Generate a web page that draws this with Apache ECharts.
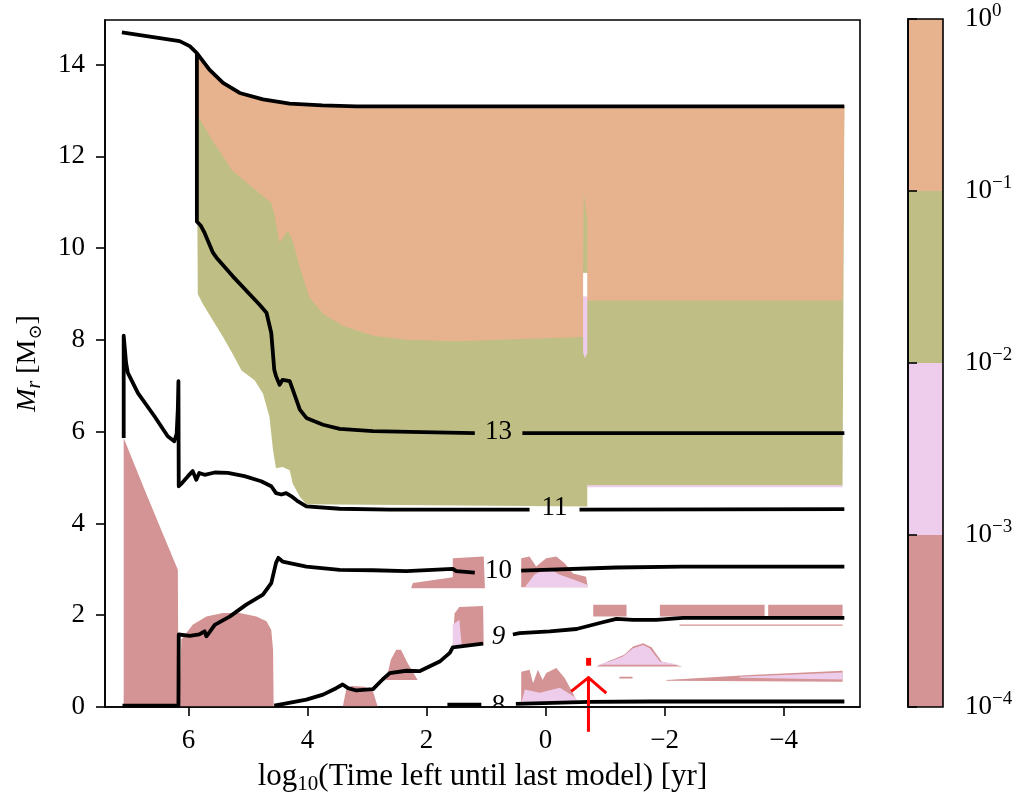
<!DOCTYPE html>
<html lang="en">

<head>
    <meta charset="UTF-8">
    <title>kippenhahn</title>
    <script src="https://cdn.jsdelivr.net/npm/echarts@6.0.0/dist/echarts.min.js"></script>
</head>

<body style="margin:0;background:#fff">
    <div id="chart" style="width:1027px;height:796px;"></div>
    <script>
        // ticks
        var xTicks = [6, 4, 2, 0, -2, -4];
        var yTicks = [0, 2, 4, 6, 8, 10, 12, 14];
        var cbBands = [[1e-4, 1e-3], [1e-3, 1e-2], [1e-2, 1e-1], [1e-1, 1]];
        var cbColours = ['#d49394', '#eecdec', '#bfbf85', '#e7b38e'];

        // black curves, null = gap for the inline label
        var totalMass = [[7.12, 14.70], [6.15, 14.51], [5.98, 14.40], [5.86, 14.25], [5.65, 13.89], [5.42, 13.60], [5.14, 13.38], [4.75, 13.24], [4.30, 13.15], [3.75, 13.11], [3.18, 13.09], [-5.02, 13.09]];
        var contour13 = [[5.86, 14.25], [5.86, 10.58], [5.79, 10.48], [5.73, 10.33], [5.59, 9.90], [5.53, 9.79], [5.26, 9.39], [4.81, 8.77], [4.69, 8.59], [4.61, 8.15], [4.56, 7.35], [4.53, 7.21], [4.47, 7.02], [4.42, 7.13], [4.30, 7.10], [4.25, 6.92], [4.13, 6.48], [4.02, 6.30], [3.74, 6.15], [3.46, 6.06], [2.90, 6.01], [2.07, 5.99], [1.19, 5.97], null, [0.39, 5.97], [-5.02, 5.97]];
        var contour11 = [[7.09, 5.86], [7.09, 8.09], [7.05, 7.50], [7.02, 7.28], [6.85, 6.84], [6.57, 6.33], [6.35, 5.90], [6.24, 5.79], [6.20, 5.95], [6.18, 6.5], [6.17, 7.10], [6.165, 4.81], [6.11, 4.88], [6.01, 5.03], [5.93, 5.14], [5.87, 4.95], [5.82, 5.10], [5.73, 5.06], [5.56, 5.11], [5.34, 5.10], [5.06, 5.03], [4.78, 4.92], [4.61, 4.81], [4.53, 4.66], [4.44, 4.63], [4.36, 4.66], [4.27, 4.59], [4.16, 4.48], [4.02, 4.37], [3.46, 4.32], [2.62, 4.30], [0.27, 4.30], null, [-0.57, 4.30], [-5.02, 4.31]];
        var contour10 = [[7.11, 0.03], [6.17, 0.03], [6.165, 1.58], [5.98, 1.55], [5.82, 1.58], [5.73, 1.65], [5.70, 1.54], [5.62, 1.68], [5.56, 1.79], [5.31, 1.97], [5.03, 2.23], [4.75, 2.45], [4.61, 2.70], [4.53, 3.14], [4.49, 3.25], [4.42, 3.17], [4.02, 3.06], [3.46, 2.99], [2.90, 2.98], [2.34, 2.96], [1.56, 3.01], [1.50, 2.96], [1.19, 2.93], null, [0.41, 2.97], [-1.19, 3.04], [-2.30, 3.06], [-5.02, 3.06]];
        var contour9 = [[4.56, 0.03], [4.02, 0.16], [3.74, 0.27], [3.52, 0.41], [3.41, 0.49], [3.32, 0.41], [3.18, 0.36], [2.90, 0.39], [2.74, 0.60], [2.62, 0.74], [2.34, 0.79], [2.12, 0.78], [1.78, 0.99], [1.61, 1.18], [1.56, 1.30], [1.05, 1.38], null, [0.55, 1.58], [0.44, 1.61], [-0.07, 1.65], [-0.52, 1.70], [-0.91, 1.83], [-1.19, 1.92], [-1.47, 1.90], [-1.86, 1.90], [-2.31, 1.94], [-5.02, 1.94]];
        var contour8 = [[1.65, 0.05], [1.08, 0.05], null, [0.50, 0.07], [-0.73, 0.11], [-1.75, 0.12], [-5.02, 0.12]];
        var contourLabels = [[0.79, 6.00, '13'], [-0.15, 4.33, '11'], [0.79, 2.97, '10'], [0.79, 1.53, '9'], [0.79, 0.03, '8']];

        // filled regions (log t, Mr)
        var peachLower = [[-4.99, 8.86], [-0.70, 8.86], [-0.70, 8.06], [-0.60, 8.06], [1.50, 7.97], [2.34, 8.00], [2.90, 8.09], [3.41, 8.31], [3.74, 8.57], [3.97, 8.93], [4.13, 9.58], [4.25, 10.16], [4.33, 10.38], [4.47, 10.12], [4.56, 10.74], [4.61, 10.99], [4.86, 11.25], [5.26, 11.68], [5.59, 12.33], [5.861, 12.92]];
        var oliveLower = [[-4.99, 4.82], [-0.70, 4.82], [-0.70, 4.37], [4.02, 4.42], [4.13, 4.58], [4.25, 4.87], [4.30, 5.16], [4.42, 5.23], [4.53, 5.20], [4.58, 5.59], [4.64, 6.32], [4.75, 6.83], [4.89, 7.12], [5.11, 7.33], [5.26, 7.70], [5.42, 8.06], [5.59, 8.42], [5.76, 8.78], [5.845, 9.00], [5.861, 12.92]];
        var oliveSliver = [[-0.64, 11.2], [-0.70, 10.6], [-0.70, 9.46], [-0.63, 9.46]];
        var whiteStrip = [[-0.63, 9.46], [-0.70, 9.46], [-0.70, 8.94], [-0.63, 8.94]];
        var lavStrip = [[-0.63, 8.94], [-0.70, 8.94], [-0.70, 7.72], [-0.66, 7.60], [-0.63, 7.72]];
        var lavOliveEdge = [[-0.70, 4.79], [-4.99, 4.79], [-4.99, 4.83], [-0.70, 4.83]];

        var roseA = [[7.09, 5.86], [6.74, 4.74], [6.46, 3.86], [6.18, 2.99], [6.17, 0], [7.09, 0]];
        var roseB = [[6.16, 0], [6.12, 1.47], [5.93, 1.79], [5.70, 1.97], [5.42, 2.05], [5.14, 2.05], [4.86, 1.97], [4.69, 1.87], [4.61, 1.68], [4.58, 1.25], [4.57, 0]];
        var roseC = [[3.41, 0], [3.35, 0.38], [3.26, 0.46], [3.04, 0.44], [2.90, 0.34], [2.82, 0]];
        var roseD = [[2.68, 0.59], [2.60, 1.03], [2.51, 1.25], [2.43, 1.25], [2.32, 0.96], [2.15, 0.59]];
        var roseE = [[1.56, 1.35], [1.53, 2.04], [1.45, 2.18], [1.05, 2.20], [1.04, 1.35]];
        var roseF1 = [[2.26, 2.59], [2.23, 2.70], [1.56, 2.83], [1.56, 3.24], [1.04, 3.28], [1.02, 2.59]];
        var roseF2 = [[0.41, 2.61], [0.41, 3.24], [0.27, 3.28], [0.16, 3.06], [-0.01, 3.24], [-0.18, 3.28], [-0.32, 3.13], [-0.46, 2.91], [-0.68, 2.84], [-0.71, 2.61]];
        var roseG1 = [[-0.80, 1.97], [-0.80, 2.23], [-1.36, 2.23], [-1.36, 1.97]];
        var roseG2 = [[-1.92, 1.97], [-1.92, 2.23], [-3.68, 2.23], [-3.68, 1.97]];
        var roseG3 = [[-3.74, 1.97], [-3.74, 2.23], [-4.99, 2.23], [-4.99, 1.97]];
        var roseI = [[0.41, 0.07], [0.41, 0.77], [0.27, 0.81], [0.21, 0.52], [0.13, 0.81], [0.05, 0.59], [-0.01, 0.74], [-0.18, 0.85], [-0.32, 0.63], [-0.46, 0.30], [-0.54, 0.09]];
        var roseJ = [[-2.03, 0.59], [-3.43, 0.70], [-4.99, 0.79], [-4.99, 0.55], [-2.03, 0.57]];
        var roseK = [[-2.25, 1.77], [-4.99, 1.77], [-4.99, 1.80], [-2.25, 1.80]];
        var roseDome = [[-0.85, 0.88], [-1.10, 1.02], [-1.32, 1.14], [-1.47, 1.32], [-1.64, 1.39], [-1.78, 1.30], [-1.95, 0.99], [-2.30, 0.88]];
        var roseDash = [[-1.24, 0.62], [-1.46, 0.62], [-1.46, 0.66], [-1.24, 0.66]];

        var lavE = [[1.56, 1.35], [1.56, 1.79], [1.45, 1.90], [1.41, 1.35]];
        var lavF = [[0.35, 2.61], [0.19, 2.88], [-0.03, 3.03], [-0.24, 2.88], [-0.49, 2.77], [-0.71, 2.66], [-0.71, 2.61]];
        var lavI = [[0.41, 0.07], [0.35, 0.38], [0.10, 0.31], [-0.24, 0.42], [-0.49, 0.22], [-0.57, 0.07]];
        var lavDome = [[-0.88, 0.92], [-1.08, 0.99], [-1.30, 1.10], [-1.47, 1.28], [-1.64, 1.35], [-1.75, 1.28], [-1.92, 0.99], [-2.25, 0.92]];
        var lavJ = [[-3.26, 0.66], [-4.99, 0.75], [-4.99, 0.60], [-3.26, 0.64]];

        // red marker
        var markerLine = [[-0.72, 0.66], [-0.72, -0.54]];
        var markerHead = [[-0.43, 0.34], [-0.72, 0.64], [-1.02, 0.30]];
        var markerBlock = [[-0.68, 0.90], [-0.765, 0.90], [-0.765, 1.07], [-0.68, 1.07]];

        var serif = "'Liberation Serif', 'DejaVu Serif', serif";
        var peach = cbColours[3], olive = cbColours[2], lav = cbColours[1], rose = cbColours[0];

        function polySeries(points, colour, z) {
            return {
                type: 'custom',
                coordinateSystem: 'cartesian2d',
                xAxisIndex: 0,
                yAxisIndex: 0,
                silent: true,
                z: z || 2,
                data: [[0, 0]],
                renderItem: function (params, api) {
                    return {
                        type: 'polygon',
                        shape: { points: points.map(function (p) { return api.coord(p); }) },
                        style: { fill: colour }
                    };
                }
            };
        }

        // one line series per unbroken piece
        function lineSeries(points, colour, width, z, clip) {
            var out = [], piece = [];
            points.concat([null]).forEach(function (p) {
                if (p === null) {
                    if (piece.length) {
                        out.push({
                            type: 'line', data: piece, showSymbol: false, silent: true,
                            clip: clip !== false, z: z,
                            lineStyle: { color: colour, width: width, cap: 'butt', join: 'round' }
                        });
                    }
                    piece = [];
                } else {
                    piece.push(p);
                }
            });
            return out;
        }

        var topPart = totalMass.filter(function (p) { return p[0] <= 5.861; });

        var series = [];
        series.push(polySeries(topPart.concat(oliveLower), olive));
        series.push(polySeries(topPart.concat(peachLower), peach));
        series.push(polySeries(oliveSliver, olive));
        series.push(polySeries(whiteStrip, '#ffffff'));
        series.push(polySeries(lavStrip, lav));
        series.push(polySeries(lavOliveEdge, lav));
        [roseA, roseB, roseC, roseD, roseE, roseF1, roseF2, roseG1, roseG2, roseG3, roseI, roseJ, roseK, roseDome, roseDash].forEach(function (r) {
            series.push(polySeries(r, rose));
        });
        [lavE, lavF, lavI, lavDome, lavJ].forEach(function (r) {
            series.push(polySeries(r, lav));
        });

        [totalMass, contour13, contour11, contour10, contour9, contour8].forEach(function (c) {
            series = series.concat(lineSeries(c, '#000', 3.8, 4));
        });

        // inline contour labels (clipped, the 8 sits on the axis)
        series.push({
            type: 'custom',
            coordinateSystem: 'cartesian2d',
            xAxisIndex: 0,
            yAxisIndex: 0,
            clip: true,
            silent: true,
            z: 5,
            data: contourLabels.map(function (l) { return [l[0], l[1]]; }),
            renderItem: function (params, api) {
                var lab = contourLabels[params.dataIndex];
                var p = api.coord([api.value(0), api.value(1)]);
                return {
                    type: 'text',
                    x: p[0],
                    y: p[1],
                    style: {
                        text: lab[2],
                        fill: '#000',
                        font: (lab[2] === '9' ? 'italic ' : '') + '27px ' + serif,
                        align: 'center',
                        verticalAlign: 'middle'
                    }
                };
            }
        });

        series = series.concat(lineSeries(markerLine, '#ff0000', 3, 6, false));
        series = series.concat(lineSeries(markerHead, '#ff0000', 3, 6, false));
        series.push(polySeries(markerBlock, '#ff0000', 6));

        // colour bar
        series.push({
            type: 'custom',
            coordinateSystem: 'cartesian2d',
            xAxisIndex: 1,
            yAxisIndex: 1,
            silent: true,
            data: cbBands,
            renderItem: function (params, api) {
                var a = api.coord([0, api.value(1)]);
                var b = api.coord([1, api.value(0)]);
                return {
                    type: 'rect',
                    shape: { x: a[0], y: a[1], width: b[0] - a[0], height: b[1] - a[1] },
                    style: { fill: cbColours[params.dataIndex] }
                };
            }
        });
        series.push({
            type: 'custom',
            coordinateSystem: 'cartesian2d',
            xAxisIndex: 1,
            yAxisIndex: 1,
            silent: true,
            z: 5,
            data: [[0, 1e-4]],
            renderItem: function (params, api) {
                var pts = [[0, 1e-4], [1, 1e-4], [1, 1], [0, 1]].map(function (p) { return api.coord(p); });
                return {
                    type: 'polygon',
                    shape: { points: pts },
                    style: { fill: 'none', stroke: '#000', lineWidth: 1.6 }
                };
            }
        });

        var chart = echarts.init(document.getElementById('chart'));
        chart.setOption({
            animation: false,
            backgroundColor: '#fff',
            grid: [
                { left: 105, right: 167, top: 20, bottom: 89, outerBoundsMode: 'none', show: true, borderColor: '#000', borderWidth: 1.6, backgroundColor: 'transparent' },
                { left: 908, right: 84, top: 19, bottom: 89, outerBoundsMode: 'none' }
            ],
            xAxis: [{
                type: 'value',
                gridIndex: 0,
                inverse: true,
                min: -5.283,
                max: 7.404,
                z: 10,
                name: 'log{sub|10}(Time left until last model) [yr]',
                nameLocation: 'middle',
                nameGap: 52,
                nameTextStyle: {
                    fontFamily: serif, fontSize: 31, lineHeight: 36, color: '#000',
                    rich: { sub: { fontFamily: serif, fontSize: 21, lineHeight: 21, verticalAlign: 'bottom', color: '#000' } }
                },
                axisLine: { onZero: false, lineStyle: { color: '#000', width: 1.6 } },
                axisTick: { customValues: xTicks, length: 9, lineStyle: { color: '#000', width: 1.6 } },
                axisLabel: {
                    customValues: xTicks,
                    margin: 20,
                    fontFamily: serif,
                    fontSize: 27,
                    color: '#000',
                    formatter: function (v) { return v < 0 ? '\u2212' + (-v) : String(v); }
                },
                splitLine: { show: false }
            }, {
                type: 'value',
                gridIndex: 1,
                min: 0,
                max: 1,
                show: false
            }],
            yAxis: [{
                type: 'value',
                gridIndex: 0,
                min: 0,
                max: 14.97,
                z: 10,
                name: '{i|M}{isub|r} [M{sub|\u2299}]',
                nameLocation: 'middle',
                nameRotate: 90,
                nameGap: 60,
                nameTextStyle: {
                    fontFamily: serif, fontSize: 28, lineHeight: 34, color: '#000',
                    rich: {
                        i: { fontFamily: serif, fontStyle: 'italic', fontSize: 28, lineHeight: 34, color: '#000' },
                        isub: { fontFamily: serif, fontStyle: 'italic', fontSize: 20, lineHeight: 20, verticalAlign: 'bottom', color: '#000' },
                        sub: { fontFamily: serif, fontSize: 18, lineHeight: 18, verticalAlign: 'bottom', color: '#000' }
                    }
                },
                axisLine: { show: true, onZero: false, lineStyle: { color: '#000', width: 1.6 } },
                axisTick: { show: true, customValues: yTicks, length: 9, lineStyle: { color: '#000', width: 1.6 } },
                axisLabel: { customValues: yTicks, margin: 20, fontFamily: serif, fontSize: 27, color: '#000' },
                splitLine: { show: false }
            }, {
                type: 'log',
                gridIndex: 1,
                logBase: 10,
                min: 1e-4,
                max: 1,
                position: 'right',
                z: 10,
                axisLine: { show: true, lineStyle: { color: '#000', width: 1.6 } },
                axisTick: { show: true, length: 9, lineStyle: { color: '#000', width: 1.6 } },
                minorTick: { show: false },
                splitLine: { show: false },
                axisLabel: {
                    margin: 22,
                    fontFamily: serif,
                    fontSize: 27,
                    lineHeight: 34,
                    color: '#000',
                    formatter: function (v) {
                        var e = Math.round(Math.log10(v));
                        return '10{sup|' + (e < 0 ? '\u2212' + (-e) : e) + '}';
                    },
                    rich: { sup: { fontFamily: serif, fontSize: 19, lineHeight: 19, verticalAlign: 'top', color: '#000' } }
                }
            }],
            series: series
        });
    </script>
</body>

</html>
